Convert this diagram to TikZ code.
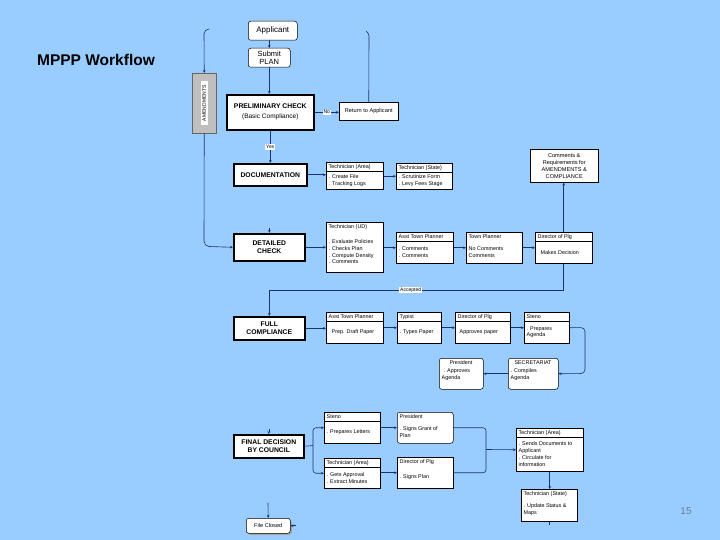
\documentclass[tikz,border=0pt]{standalone}
\usepackage{fontspec}
\setmainfont{Liberation Sans}
\usetikzlibrary{arrows.meta,shadows,calc}
\definecolor{bgblue}{RGB}{153,204,255}
\definecolor{navy}{RGB}{30,50,110}
\definecolor{pgnum}{RGB}{110,125,150}
% box with header separator: [style]{name}{x}{y}{w}{h}{header}{body}
\newcommand\sbx[8][]{%
  \node[wbox,#1,minimum width=#5pt,minimum height=#6pt] (#2) at (#3,#4) {};
  \node[txt,anchor=west] at ({#3+2.5},{#4+4.7}) {#7};
  \draw[line width=0.5pt] (#3,{#4+9.5}) -- ({#3+#5},{#4+9.5});
  \node[txt,anchor=west] at ({#3+2.5},{#4+4.75+#6/2}) {#8};
}
% box without separator
\newcommand\nbx[8][]{%
  \node[wbox,#1,minimum width=#5pt,minimum height=#6pt] (#2) at (#3,#4) {};
  \node[txt,anchor=west] at ({#3+2.5},{#4+4.7}) {#7};
  \node[txt,anchor=west] at ({#3+2.5},{#4+4.75+#6/2}) {#8};
}
\begin{document}
\begin{tikzpicture}[x=1pt,y=-1pt,
  wbox/.style={draw=black,fill=white,line width=0.5pt,inner sep=0pt,anchor=north west},
  rbox/.style={wbox,rounded corners=2.5pt},
  tbox/.style={wbox,line width=1.6pt,align=center,font=\bfseries\fontsize{6.8}{8.5}\selectfont},
  txt/.style={inner sep=0pt,anchor=north west,align=left,font=\fontsize{5.4}{6.8}\selectfont},
  con/.style={draw=navy,line width=0.6pt},
  arr/.style={con,-{Stealth[length=3pt,width=2.6pt]}},
  lab/.style={fill=white,inner sep=1pt,font=\fontsize{5}{5.5}\selectfont},
]
\useasboundingbox[fill=bgblue] (0,0) rectangle (720,540);

% title and page number
\node[font=\bfseries\fontsize{15.5}{18}\selectfont] (title) at (96,60) {MPPP Workflow};
\node[font=\fontsize{10}{12}\selectfont,text=pgnum] (pg) at (686,511) {15};

% top part
\node[rbox,minimum width=49pt,minimum height=19pt,font=\fontsize{8}{9}\selectfont] (app) at (248,21) {Applicant};
\node[rbox,minimum width=42pt,minimum height=19pt,align=center,font=\fontsize{7.5}{8.5}\selectfont] (sub) at (248,48) {Submit\\PLAN};
\node[tbox,minimum width=87pt,minimum height=35pt,font=\bfseries\fontsize{6.8}{10}\selectfont] (pre) at (226,94) {PRELIMINARY CHECK\\{\mdseries\fontsize{6.5}{10}\selectfont(Basic Compliance)}};
\node[wbox,fill=black!25,draw=black!60,minimum width=24pt,minimum height=60pt] (amd) at (192,73) {};
\node[fill=white,inner xsep=4pt,inner ysep=1.5pt,rotate=90,font=\fontsize{5}{6}\selectfont] (amdt) at (amd.center) {AMENDMENTS};
\node[wbox,minimum width=59pt,minimum height=18pt,font=\fontsize{5.6}{6.8}\selectfont] (ret) at (339,102) {Return to Applicant};
\node[wbox,minimum width=68pt,minimum height=33pt,align=center,font=\fontsize{5.6}{7}\selectfont] (cmt) at (530,149) {Comments \&\\Requirements for\\AMENDMENTS \&\\COMPLIANCE};

% main steps
\node[tbox,minimum width=73pt,minimum height=22pt] (doc) at (233,163) {DOCUMENTATION};
\node[tbox,minimum width=71pt,minimum height=27pt] (det) at (233,233) {DETAILED\\CHECK};
\node[tbox,minimum width=71pt,minimum height=23pt] (fc) at (233,316) {FULL\\COMPLIANCE};
\node[tbox,minimum width=70pt,minimum height=23pt] (fd) at (233,434) {FINAL DECISION\\BY COUNCIL};
\node[rbox,minimum width=44pt,minimum height=15pt,font=\fontsize{5.6}{6.8}\selectfont,
  drop shadow={shadow xshift=1.6pt,shadow yshift=-1.6pt,fill=black!35,opacity=1}] (fcl) at (246,518) {File Closed};

% documentation row
\sbx{ta1}{326}{162}{57}{27}{Technician (Area)}{. Create File\\. Tracking Logs}
\sbx{ts1}{396}{163}{56}{26}{Technician (State)}{. Scrutinize Form\\. Levy Fees Stage}

% detailed check row
\nbx{tud}{326}{222}{57}{50}{Technician (UD)}{. Evaluate Policies\\. Checks Plan\\. Compute Density\\. Comments}
\sbx{atp1}{396}{232}{57}{31}{Asst Town Planner}{. Comments\\. Comments}
\nbx{tp}{466}{232}{56}{31}{Town Planner}{No Comments\\Comments}
\sbx{dir1}{535}{232}{57}{31}{Director of Plg}{\hspace{3pt}Makes Decision}

% full compliance row
\sbx{atp2}{326}{312}{57}{31}{Asst Town Planner}{\hspace{3pt}Prep. Draft Paper}
\sbx{typ}{397}{312}{44}{31}{Typist}{. Types Paper}
\sbx{dir2}{455}{312}{55}{31}{Director of Plg}{\hspace{2pt}Approves paper}
\sbx{st1}{524}{312}{45}{31}{Steno}{. Prepares\\Agenda}
\node[rbox,minimum width=44pt,minimum height=31pt] (pres1) at (439,358) {};
\node[txt,anchor=center] at (461,362.5) {President};
\node[txt,anchor=west] at (441.5,375) {\hspace{2pt}. Approves\\Agenda};
\node[rbox,minimum width=50pt,minimum height=31pt] (sec) at (508,358) {};
\node[txt,anchor=center] at (533,362.5) {SECRETARIAT};
\node[txt,anchor=west] at (510.5,375) {. Compiles\\Agenda};

% final decision rows
\sbx{st2}{324}{412}{56}{31}{Steno}{. Prepares Letters}
\nbx[rounded corners=2.5pt]{pres2}{397}{412}{56}{31}{President}{. Signs Grant of\\Plan}
\sbx{ta2}{324}{458}{56}{30}{Technician (Area)}{. Gets Approval\\. Extract Minutes}
\nbx{dir3}{397}{457}{56}{31}{Director of Plg}{. Signs Plan}
\sbx{ta3}{516}{428}{67}{43}{Technician (Area)}{. Sends Documents to\\Applicant\\. Circulate for\\information}
\nbx{ts2}{521}{489}{56}{32}{Technician (State)}{. Update Status \&\\Maps}

% helper coordinates
\coordinate (amdtop) at (209,29);
\coordinate (rettop) at (366,31);
\coordinate (h1) at (0,290);
\coordinate (fdj) at (313,445.5);
\coordinate (j2) at (486,449.5);
\coordinate (fcin) at (268,503);

% connectors
\draw[arr] (sub.north |- app.south) -- (sub.north);
\draw[arr] (sub.south) -- (sub.south |- pre.north);
\draw[arr] (pre.east) -- node[lab]{No} (ret.west |- pre.east);
\draw[con] (ret.north) -- (369,36) to[out=90,in=-45] (rettop);
\draw[arr] (amdtop) to[out=180,in=90] (204,34) -- (amd.north);
\draw[arr] (amd.south) -- (204,241) to[out=-90,in=180] (209,246.5) -- (det.west);
\draw[arr] (pre.south) -- node[lab]{Yes} (pre.south |- doc.north);
\draw[arr] (doc.east) -- (doc.east -| ta1.west);
\draw[arr] (ta1.east |- ts1.west) -- (ts1.west);
\draw[arr] ([yshift=5pt]det.north) -- (det.north);
\draw[arr] (dir1.north) -- (dir1.north |- cmt.south);

\draw[arr] (det.east) -- (det.east -| tud.west);
\draw[arr] (tud.east |- atp1.west) -- (atp1.west);
\draw[arr] (atp1.east) -- (atp1.east -| tp.west);
\draw[arr] (tp.east) -- (tp.east -| dir1.west);
\draw[arr] (dir1.south) -- (dir1.south |- h1) -- node[lab,pos=0.52]{Accepted} (fc.north |- h1) -- (fc.north);

\draw[arr] (fc.east) -- (fc.east -| atp2.west);
\draw[arr] (atp2.east) -- (atp2.east -| typ.west);
\draw[arr] (typ.east) -- (typ.east -| dir2.west);
\draw[arr] (dir2.east) -- (dir2.east -| st1.west);
\draw[arr,rounded corners=4pt] (st1.east) -- (585,327.5) -- (585,373.5) -- (sec.east);
\draw[arr] (sec.west) -- (pres1.east);

\draw[arr] ([yshift=5pt]fd.north) -- (fd.north);
\draw[con] (fd.east) -- (fdj);
\draw[arr,rounded corners=3pt] (fdj) |- (st2.west);
\draw[arr,rounded corners=3pt] (fdj) |- (ta2.west);
\draw[arr] (st2.east) -- (st2.east -| pres2.west);
\draw[arr] (ta2.east |- dir3.west) -- (dir3.west);
\draw[con,rounded corners=3pt] (pres2.east) -| (j2);
\draw[con,rounded corners=3pt] (dir3.east) -| (j2);
\draw[arr] (j2) -- (ta3.west);
\draw[arr] (ta3.south) -- (ta3.south |- ts2.north);
\draw[con] (ts2.south) -- ++(0,3);
\draw[arr] (fcin) -- (fcl.north);
\draw[arr] ([xshift=5pt]fcl.east) -- (fcl.east);
\end{tikzpicture}
\end{document}
